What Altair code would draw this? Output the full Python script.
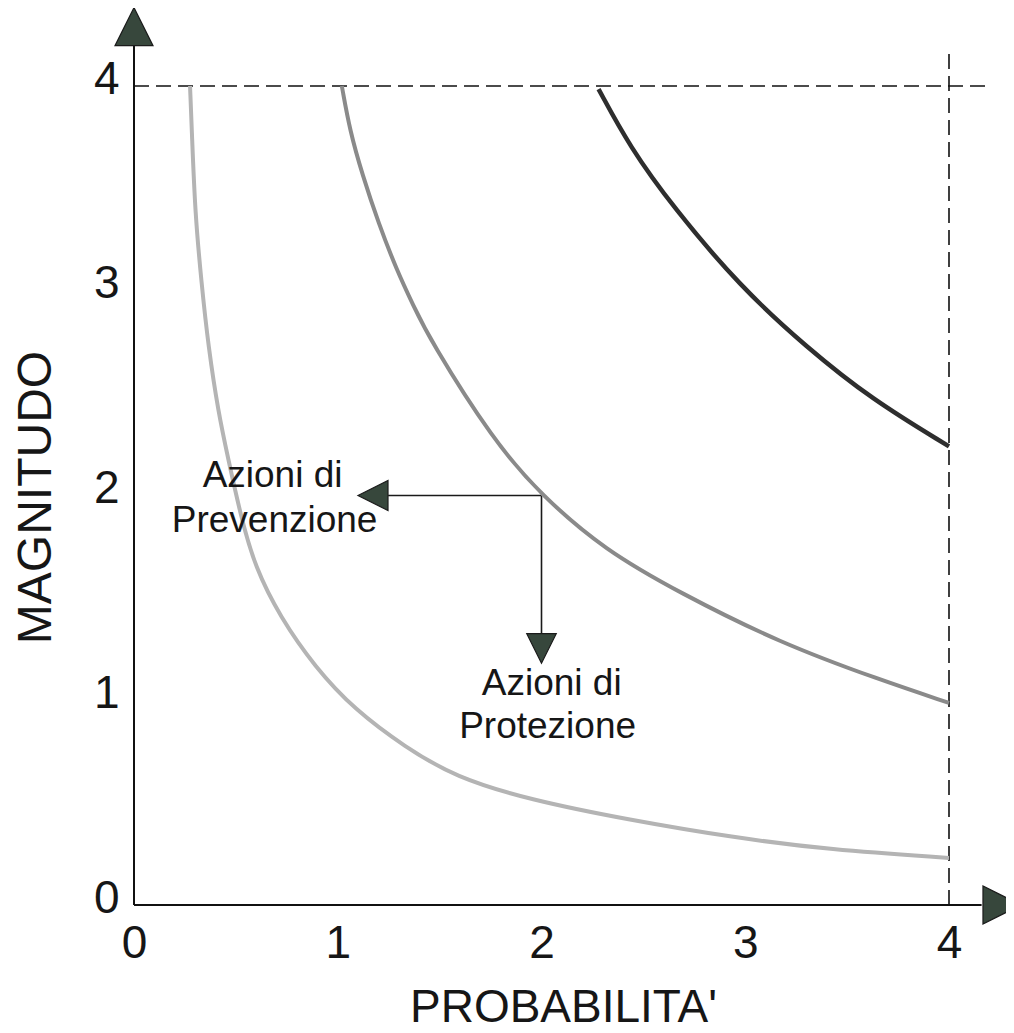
import altair as alt
import pandas as pd

# ---- curve readings (x = PROBABILITA', y = MAGNITUDO) ----
low_x = [0.275, 0.285, 0.30, 0.33, 0.365, 0.415, 0.46, 0.525, 0.594, 0.717, 0.888, 1.085, 1.33, 1.575, 1.944, 2.434, 2.925, 3.416, 4.0]
low_y = [4.0, 3.75, 3.38, 3.05, 2.725, 2.40, 2.19, 1.895, 1.65, 1.407, 1.162, 0.952, 0.772, 0.625, 0.513, 0.415, 0.332, 0.269, 0.23]

mid_x = [1.02, 1.06, 1.12, 1.20, 1.29, 1.37, 1.453, 1.762, 2.0, 2.31, 2.68, 3.17, 3.66, 4.0]
mid_y = [4.0, 3.78, 3.57, 3.33, 3.10, 2.93, 2.76, 2.27, 2.0, 1.734, 1.524, 1.28, 1.10, 0.987]

high_x = [2.28, 2.435, 2.645, 2.975, 3.30, 3.62, 4.0]
high_y = [3.985, 3.70, 3.41, 3.02, 2.725, 2.47, 2.24]

curve_names = ["basso", "medio", "alto"]
curve_colors = ["#b4b4b4", "#8a8a8a", "#2e2e2e"]
curve_widths = [4, 4, 4.5]

# ---- tick labels ----
tick_values = [0, 1, 2, 3, 4]

# ---- annotation text lines ----
ann_text = ["Azioni di", "Prevenzione", "Azioni di", "Protezione"]
ann_x = [0.68, 0.69, 2.05, 2.03]
ann_y = [2.04, 1.82, 1.026, 0.816]

# ---- straight segments: axes, dashed limits, action arrows ----
seg_x1 = [0, 0, 0, 4, 2.0, 2.0]
seg_y1 = [0, 0, 4, 0, 2.0, 2.0]
seg_x2 = [0, 4.16, 4.21, 4, 1.247, 2.0]
seg_y2 = [4.2, 0, 4, 4.16, 2.0, 1.32]
seg_kind = ["axis", "axis", "dash", "dash", "arrow", "arrow"]

# ---- arrow heads ----
head_x = [0.0, 4.26, 1.173, 2.0]
head_y = [4.29, 0.0, 2.0, 1.253]
head_shape = ["M0,-1L1,1L-1,1Z", "M1,0L-1,1L-1,-1Z", "M-1,0L1,-1L1,1Z", "M0,1L-1,-1L1,-1Z"]
head_size = [1444, 1444, 900, 870]

FONT = "Liberation Sans"
TXT = "#161616"

xs = alt.Scale(domain=[0, 4], nice=False, zero=False)
ys = alt.Scale(domain=[0, 4], nice=False, zero=False)

x_axis = alt.Axis(values=tick_values, ticks=False, tickSize=0, domain=False, grid=False,
                  labelFontSize=46, labelFont=FONT, labelColor=TXT, labelPadding=38,
                  labelBaseline="middle", labelFlush=False, labelOverlap=False,
                  title="PROBABILITA'", titleFontSize=46, titleFont=FONT, titleColor=TXT,
                  titleFontWeight="normal", titleX=429, titleY=116,
                  titleAlign="center", titleBaseline="alphabetic")
y_axis = alt.Axis(values=tick_values, ticks=False, tickSize=0, domain=False, grid=False,
                  labelFontSize=46, labelFont=FONT, labelColor=TXT, labelPadding=15,
                  labelBaseline="middle", labelOffset=-7, labelFlush=False, labelOverlap=False,
                  title="MAGNITUDO", titleFontSize=48, titleFont=FONT, titleColor=TXT,
                  titleFontWeight="normal", titleAngle=270, titleX=-84, titleY=411,
                  titleAlign="center", titleBaseline="alphabetic")

layers = []

# straight segments
seg_df = pd.DataFrame({"x": seg_x1, "y": seg_y1, "x2": seg_x2, "y2": seg_y2, "kind": seg_kind})
styles = {"axis": dict(color="#111111", strokeWidth=2),
          "dash": dict(color="#111111", strokeWidth=1.6, strokeDash=[15, 7]),
          "arrow": dict(color="#1a1a1a", strokeWidth=1.6)}
for kind, st in styles.items():
    layers.append(
        alt.Chart(seg_df[seg_df.kind == kind]).mark_rule(**st).encode(
            x=alt.X("x:Q", scale=xs, axis=x_axis),
            y=alt.Y("y:Q", scale=ys, axis=y_axis),
            x2="x2:Q", y2="y2:Q")
    )

# curves
for name, cx, cy, col, w in zip(curve_names, [low_x, mid_x, high_x], [low_y, mid_y, high_y],
                                curve_colors, curve_widths):
    df = pd.DataFrame({"x": cx, "y": cy})
    layers.append(
        alt.Chart(df).mark_line(color=col, strokeWidth=w, interpolate="basis",
                                strokeCap="butt").encode(
            x=alt.X("x:Q", scale=xs, axis=x_axis),
            y=alt.Y("y:Q", scale=ys, axis=y_axis))
    )

# arrow heads
head_df = pd.DataFrame({"x": head_x, "y": head_y, "shape": head_shape, "size": head_size})
layers.append(
    alt.Chart(head_df).mark_point(filled=True, fill="#37473c", stroke="#1b1b1b",
                                  strokeWidth=1.2, opacity=1).encode(
        x=alt.X("x:Q", scale=xs, axis=x_axis),
        y=alt.Y("y:Q", scale=ys, axis=y_axis),
        shape=alt.Shape("shape:N", scale=None),
        size=alt.Size("size:Q", scale=None))
)

# annotation text
ann_df = pd.DataFrame({"x": ann_x, "y": ann_y, "t": ann_text})
layers.append(
    alt.Chart(ann_df).mark_text(font=FONT, fontSize=37, color=TXT, align="center",
                                baseline="alphabetic").encode(
        x=alt.X("x:Q", scale=xs, axis=x_axis),
        y=alt.Y("y:Q", scale=ys, axis=y_axis),
        text="t:N")
)

chart = alt.layer(*layers).properties(
    width=815, height=819,
    padding={"left": 126, "top": 78, "right": 57, "bottom": 128},
    autosize=alt.AutoSizeParams(type="none"),
    background="white",
).configure_view(stroke=None)

chart.save("out.html", embed_options={"renderer": "svg", "actions": False})
